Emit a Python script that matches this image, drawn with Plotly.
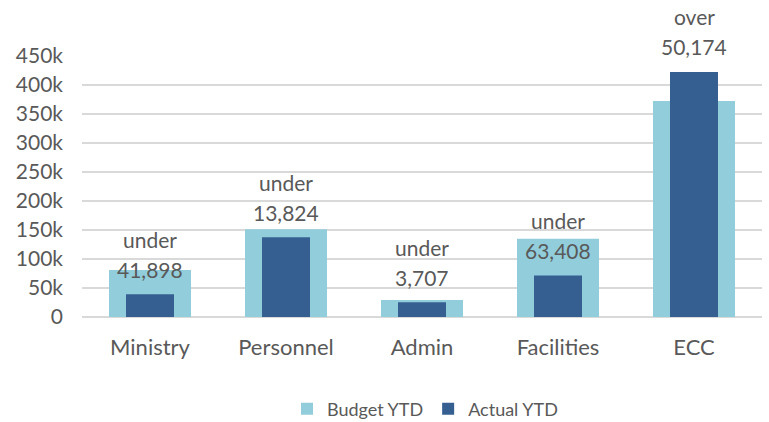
import plotly.graph_objects as go

categories = ["Ministry", "Personnel", "Admin", "Facilities", "ECC"]
budget_ytd = [81000, 151200, 29300, 135000, 372250]
actual_ytd = [39102, 137376, 25593, 71592, 422424]
tick_vals = [0, 50000, 100000, 150000, 200000, 250000, 300000, 350000, 400000, 450000]
tick_text = ["0", "50k", "100k", "150k", "200k", "250k", "300k", "350k", "400k", "450k"]

FONT = "Lato"
GREY = "#595959"

fig = go.Figure()
fig.add_trace(go.Bar(x=categories, y=budget_ytd, name="Budget YTD", width=0.603,
                     marker=dict(color="#92CDDC", line=dict(width=0))))
fig.add_trace(go.Bar(x=categories, y=actual_ytd, name="Actual YTD", width=0.353,
                     marker=dict(color="#355F91", line=dict(width=0))))

for c, b, a in zip(categories, budget_ytd, actual_ytd):
    diff = a - b
    word = "over" if diff > 0 else "under"
    fig.add_annotation(x=c, y=a, text=f"{abs(diff):,}", showarrow=False,
                       yanchor="middle", yshift=25,
                       font=dict(family=FONT, size=21, color=GREY))
    fig.add_annotation(x=c, y=a, text=word, showarrow=False,
                       yanchor="middle", yshift=55,
                       font=dict(family=FONT, size=21, color=GREY))

fig.update_layout(
    width=769, height=422,
    margin=dict(l=82, r=7, t=56, b=105, autoexpand=False),
    barmode="overlay",
    plot_bgcolor="white", paper_bgcolor="white",
    font=dict(family=FONT, color=GREY),
    showlegend=True,
    legend=dict(orientation="h", x=425 / 769, xanchor="center", xref="container",
                y=1 - 409 / 422, yanchor="middle", yref="container",
                font=dict(family=FONT, size=18, color=GREY), traceorder="normal",
                itemwidth=30),
    xaxis=dict(showgrid=False, ticks="", tickfont=dict(size=22, color=GREY),
               ticklabelstandoff=15, showline=False),
    yaxis=dict(range=[0, 450000], tickvals=tick_vals, ticktext=tick_text,
               showgrid=True, gridcolor="#D9D9D9", gridwidth=1.5,
               zeroline=True, zerolinecolor="#D9D9D9", zerolinewidth=1.5,
               ticks="", tickfont=dict(size=21, color=GREY), ticklabelstandoff=18),
)

fig.write_html("out.html")
